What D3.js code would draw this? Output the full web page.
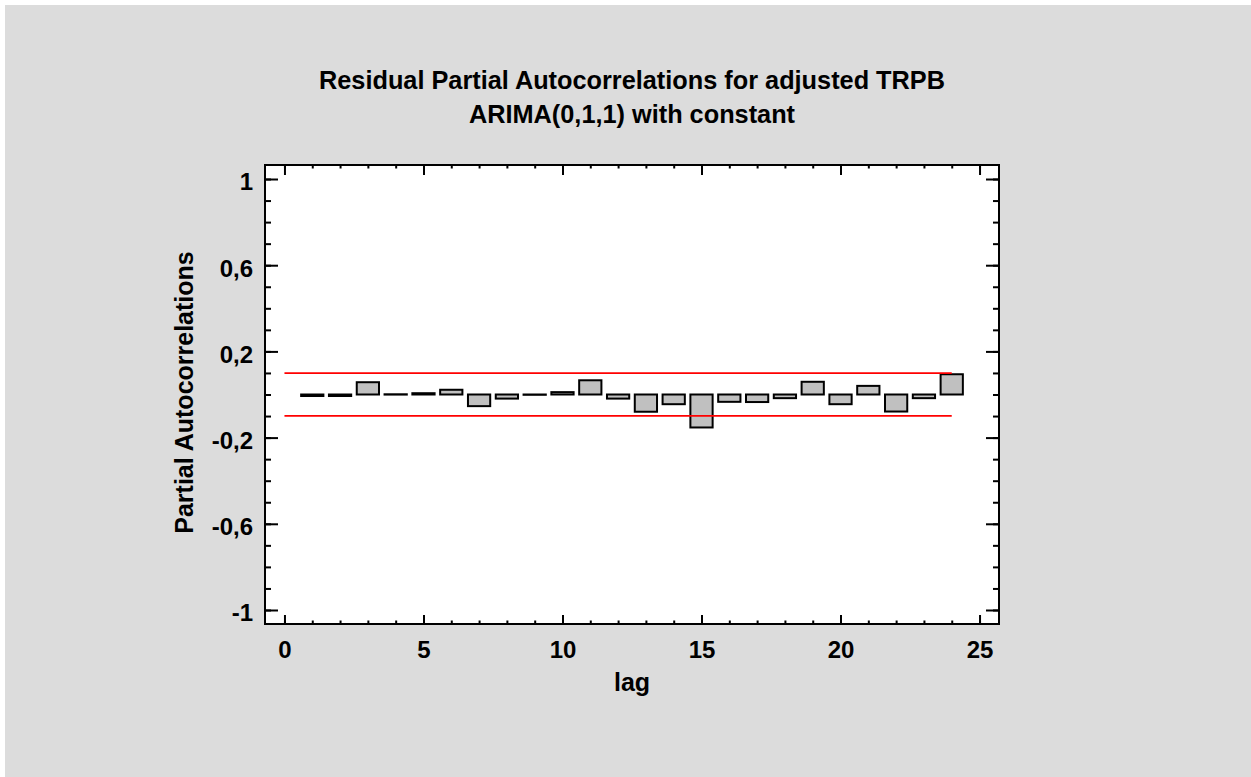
<!DOCTYPE html>
<html>
<head>
<meta charset="utf-8">
<script src="https://cdn.jsdelivr.net/npm/d3@7"></script>
<style>
  body { margin: 0; background: #ffffff; }
  text { font-family: "Liberation Sans", Arial, sans-serif; font-weight: bold; fill: #000; }
</style>
</head>
<body>
<div id="chart-area"></div>
<script>
// data
var lags = [1, 2, 3, 4, 5, 6, 7, 8, 9, 10, 11, 12, 13, 14, 15, 16, 17, 18, 19, 20, 21, 22, 23, 24];
var pacf = [-0.007, -0.007, 0.057, 0.001, 0.006, 0.022, -0.054, -0.019, -0.001, 0.011, 0.066, -0.019,
            -0.080, -0.045, -0.153, -0.034, -0.035, -0.017, 0.059, -0.045, 0.040, -0.079, -0.017, 0.094];
var limitUpper = 0.099;
var limitLower = -0.099;
var limitLags = [0, 24];
var xTicks = [0, 5, 10, 15, 20, 25];
var yTicks = [-1, -0.6, -0.2, 0.2, 0.6, 1];
var titleLines = ["Residual Partial Autocorrelations for adjusted TRPB", "ARIMA(0,1,1) with constant"];

var W = 1251, H = 777;
var plot = { left: 265, top: 165, width: 734, height: 459 };

var svg = d3.select("#chart-area")
  .append("svg")
  .attr("width", W)
  .attr("height", H);

svg.append("rect")
  .attr("x", 5).attr("y", 5)
  .attr("width", W - 5).attr("height", H - 5)
  .attr("fill", "#dcdcdc");

var x = d3.scaleLinear()
  .domain([-0.7, 25.7])
  .range([0, plot.width]);

var y = d3.scaleLinear()
  .domain([-1.065, 1.065])
  .range([plot.height, 0]);

var g = svg.append("g")
  .attr("transform", "translate(" + plot.left + ", " + plot.top + ")");

g.append("rect")
  .attr("width", plot.width)
  .attr("height", plot.height)
  .attr("fill", "#ffffff");

var fmt = function(d){ return String(d).replace(".", ","); };

// minor ticks
var xMinor = d3.range(0, 26);
var yMinor = d3.range(-10, 11).map(function(i){ return i / 10; });

function tickGroup(axis, tr){
  var a = g.append("g").attr("transform", tr).call(axis);
  a.select(".domain").remove();
  a.selectAll("line").attr("stroke", "#000").attr("stroke-width", 2);
  return a;
}

tickGroup(d3.axisBottom(x).tickValues(xMinor).tickSize(-3.5).tickFormat(""), "translate(0," + plot.height + ")");
tickGroup(d3.axisTop(x).tickValues(xMinor).tickSize(-3.5).tickFormat(""), "translate(0,0)");
tickGroup(d3.axisLeft(y).tickValues(yMinor).tickSize(-6).tickFormat(""), "translate(0,0)");
tickGroup(d3.axisRight(y).tickValues(yMinor).tickSize(-6).tickFormat(""), "translate(" + plot.width + ",0)");

var xAxisGroup = tickGroup(d3.axisBottom(x).tickValues(xTicks).tickSize(-9).tickPadding(26).tickFormat(fmt),
  "translate(0," + plot.height + ")");
tickGroup(d3.axisTop(x).tickValues(xTicks).tickSize(-10).tickFormat(""), "translate(0,0)");
var yAxisGroup = tickGroup(d3.axisLeft(y).tickValues(yTicks).tickSize(-13).tickPadding(12).tickFormat(fmt),
  "translate(0,0)");
tickGroup(d3.axisRight(y).tickValues(yTicks).tickSize(-13).tickFormat(""), "translate(" + plot.width + ",0)");

xAxisGroup.selectAll("text")
  .attr("dy", null)
  .attr("y", 34)
  .style("font-size", "24px")
  .style("font-family", "'Liberation Sans', Arial, sans-serif")
  .style("font-weight", "bold");

yAxisGroup.selectAll("text")
  .attr("dy", "0.45em")
  .style("font-size", "24px")
  .style("font-family", "'Liberation Sans', Arial, sans-serif")
  .style("font-weight", "bold");

// bars
g.selectAll("rect.bar")
  .data(lags)
  .enter()
  .append("rect")
  .attr("class", "bar")
  .attr("x", function(d){ return x(d - 0.4); })
  .attr("width", function(d){ return x(d + 0.4) - x(d - 0.4); })
  .attr("y", function(d, i){ return y(Math.max(0, pacf[i])); })
  .attr("height", function(d, i){ return Math.max(0.3, Math.abs(y(pacf[i]) - y(0))); })
  .attr("fill", "#c0c0c0")
  .attr("stroke", "#000")
  .attr("stroke-width", 2);

// probability limits
[limitUpper, limitLower].forEach(function(v){
  g.append("line")
    .attr("x1", x(limitLags[0]))
    .attr("x2", x(limitLags[1]))
    .attr("y1", y(v))
    .attr("y2", y(v))
    .attr("stroke", "#ff0000")
    .attr("stroke-width", 1.6);
});

// frame
g.append("rect")
  .attr("width", plot.width)
  .attr("height", plot.height)
  .attr("fill", "none")
  .attr("stroke", "#000")
  .attr("stroke-width", 2);

// titles
svg.selectAll("text.title")
  .data(titleLines)
  .enter()
  .append("text")
  .attr("class", "title")
  .attr("x", plot.left + plot.width / 2)
  .attr("y", function(d, i){ return 89 + i * 34; })
  .attr("text-anchor", "middle")
  .style("font-size", "25.3px")
  .text(function(d){ return d; });

svg.append("text")
  .attr("x", plot.left + plot.width / 2)
  .attr("y", 691)
  .attr("text-anchor", "middle")
  .style("font-size", "25px")
  .text("lag");

svg.append("text")
  .attr("transform", "translate(193, " + (plot.top + y(0) - 2) + ") rotate(-90)")
  .attr("text-anchor", "middle")
  .style("font-size", "25px")
  .text("Partial Autocorrelations");
</script>
</body>
</html>
